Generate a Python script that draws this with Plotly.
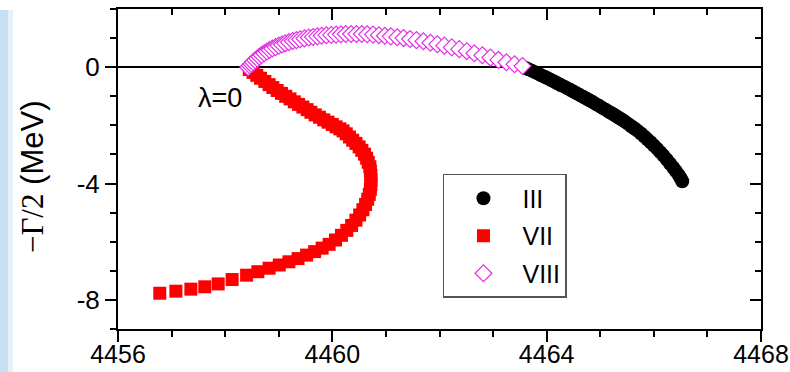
import plotly.graph_objects as go

# Pole trajectories in the complex energy plane: Re(E) vs -Gamma/2, both in MeV

# Pole III (black circles)
iii_mass = [4463.60, 4463.66, 4463.72, 4463.78, 4463.84, 4463.90, 4463.96, 4464.02,
            4464.08, 4464.14, 4464.20, 4464.26, 4464.32, 4464.38, 4464.44, 4464.50,
            4464.56, 4464.62, 4464.68, 4464.74, 4464.80, 4464.86, 4464.92, 4464.98,
            4465.04, 4465.10, 4465.16, 4465.22, 4465.28, 4465.34, 4465.40, 4465.46,
            4465.52, 4465.58, 4465.64, 4465.70, 4465.76, 4465.82, 4465.88, 4465.94,
            4466.00, 4466.06, 4466.12, 4466.18, 4466.24, 4466.30, 4466.36, 4466.41,
            4466.46, 4466.50, 4466.53]
iii_width = [-0.02, -0.07, -0.12, -0.17, -0.22, -0.28, -0.33, -0.38,
             -0.44, -0.49, -0.55, -0.61, -0.66, -0.72, -0.78, -0.84,
             -0.90, -0.96, -1.02, -1.08, -1.14, -1.20, -1.27, -1.33,
             -1.40, -1.46, -1.53, -1.59, -1.66, -1.73, -1.80, -1.87,
             -1.95, -2.03, -2.11, -2.19, -2.28, -2.38, -2.48, -2.58,
             -2.69, -2.80, -2.92, -3.04, -3.17, -3.31, -3.45, -3.57,
             -3.70, -3.81, -3.92]

# Pole VII (red squares)
vii_mass = [4458.45, 4458.52, 4458.59, 4458.66, 4458.74, 4458.82, 4458.89, 4458.97,
            4459.05, 4459.13, 4459.21, 4459.29, 4459.37, 4459.45, 4459.53, 4459.60,
            4459.68, 4459.76, 4459.84, 4459.92, 4460.00, 4460.07, 4460.14, 4460.20,
            4460.26, 4460.32, 4460.38, 4460.44, 4460.50, 4460.55, 4460.60, 4460.64,
            4460.67, 4460.70, 4460.71, 4460.72, 4460.72, 4460.72, 4460.71, 4460.69,
            4460.66, 4460.62, 4460.57, 4460.51, 4460.44, 4460.36, 4460.27, 4460.17,
            4460.06, 4459.94, 4459.81, 4459.67, 4459.52, 4459.36, 4459.19, 4459.01,
            4458.82, 4458.61, 4458.40, 4458.13, 4457.87, 4457.62, 4457.36, 4457.08,
            4456.78]
vii_width = [-0.08, -0.18, -0.28, -0.38, -0.49, -0.60, -0.70, -0.80,
             -0.90, -1.00, -1.09, -1.19, -1.28, -1.37, -1.46, -1.55,
             -1.64, -1.72, -1.81, -1.89, -1.97, -2.05, -2.12, -2.19,
             -2.29, -2.40, -2.51, -2.62, -2.74, -2.86, -2.99, -3.13,
             -3.27, -3.42, -3.57, -3.72, -3.88, -4.04, -4.20, -4.37,
             -4.54, -4.72, -4.90, -5.08, -5.26, -5.44, -5.61, -5.78,
             -5.94, -6.09, -6.22, -6.34, -6.46, -6.58, -6.69, -6.80,
             -6.91, -7.03, -7.15, -7.30, -7.45, -7.55, -7.63, -7.70,
             -7.77]

# Pole VIII (open magenta diamonds)
viii_mass = [4458.43, 4458.46, 4458.49, 4458.52, 4458.56, 4458.60, 4458.64, 4458.68,
             4458.73, 4458.78, 4458.83, 4458.88, 4458.94, 4459.00, 4459.06, 4459.12,
             4459.19, 4459.26, 4459.33, 4459.40, 4459.48, 4459.56, 4459.64, 4459.72,
             4459.80, 4459.89, 4459.98, 4460.07, 4460.16, 4460.25, 4460.35, 4460.45,
             4460.55, 4460.65, 4460.76, 4460.87, 4460.98, 4461.09, 4461.21, 4461.33,
             4461.45, 4461.57, 4461.70, 4461.83, 4461.96, 4462.09, 4462.23, 4462.37,
             4462.51, 4462.65, 4462.80, 4462.95, 4463.10, 4463.25, 4463.40, 4463.55]
viii_width = [0.00, 0.06, 0.11, 0.17, 0.24, 0.30, 0.36, 0.42,
              0.48, 0.54, 0.59, 0.64, 0.69, 0.74, 0.78, 0.82,
              0.86, 0.90, 0.93, 0.96, 0.99, 1.02, 1.04, 1.06,
              1.08, 1.10, 1.11, 1.12, 1.13, 1.14, 1.14, 1.14,
              1.14, 1.13, 1.12, 1.10, 1.08, 1.06, 1.03, 1.00,
              0.97, 0.93, 0.89, 0.84, 0.79, 0.74, 0.68, 0.62,
              0.55, 0.48, 0.41, 0.33, 0.25, 0.17, 0.10, 0.04]

series_names = ["III", "VII", "VIII"]
x_ticks = [4456, 4460, 4464, 4468]
y_ticks = [-8, -4, 0]
y_tick_text = ["-8", "-4", "0"]

SANS = "Liberation Sans, Arial, sans-serif"
SERIF = "Liberation Serif, Times New Roman, serif"

fig = go.Figure()

fig.add_trace(go.Scatter(
    x=iii_mass, y=iii_width, mode="markers", name=series_names[0],
    legendgroup="a",
    marker=dict(symbol="circle", size=14, color="black", line=dict(width=0)),
))
fig.add_trace(go.Scatter(
    x=vii_mass, y=vii_width, mode="markers", name=series_names[1],
    legendgroup="b",
    marker=dict(symbol="square", size=13, color="#ff0000", line=dict(width=0)),
))
fig.add_trace(go.Scatter(
    x=viii_mass, y=viii_width, mode="markers", name=series_names[2],
    legendgroup="c",
    marker=dict(symbol="diamond", size=13, color="white",
                line=dict(width=1.2, color="#e62ee6")),
))
# empty trace that carries the mirrored top/right axes
fig.add_trace(go.Scatter(x=[], y=[], xaxis="x2", yaxis="y2",
                         showlegend=False, hoverinfo="skip"))

axis_common = dict(
    showgrid=False, showline=True, linecolor="black", linewidth=2,
    tickcolor="black", tickwidth=2, ticklen=11, automargin=False,
)

fig.update_layout(
    width=790, height=372,
    margin=dict(l=118, r=29, t=9, b=43),
    paper_bgcolor="white", plot_bgcolor="white",
    font=dict(family=SANS, size=25, color="black"),
    xaxis=dict(
        range=[4456, 4468], tickmode="array", tickvals=x_ticks,
        ticks="outside", zeroline=False, ticklabelstandoff=-9,
        tickfont=dict(family=SANS, size=25),
        minor=dict(tickmode="linear", tick0=4456, dtick=1, ticks="outside",
                   ticklen=6, tickwidth=2, tickcolor="black", showgrid=False),
        **axis_common,
    ),
    yaxis=dict(
        range=[-9, 2], tickmode="array", tickvals=y_ticks, ticktext=y_tick_text,
        ticks="outside", zeroline=True, zerolinecolor="black", zerolinewidth=2,
        tickfont=dict(family=SANS, size=26),
        minor=dict(tickmode="linear", tick0=0, dtick=1, ticks="outside",
                   ticklen=6, tickwidth=2, tickcolor="black", showgrid=False),
        **axis_common,
    ),
    xaxis2=dict(
        overlaying="x", matches="x", side="top", anchor="y2",
        range=[4456, 4468], tickmode="array", tickvals=x_ticks,
        ticks="inside", showticklabels=False, zeroline=False,
        minor=dict(tickmode="linear", tick0=4456, dtick=1, ticks="inside",
                   ticklen=6, tickwidth=2, tickcolor="black", showgrid=False),
        **axis_common,
    ),
    yaxis2=dict(
        overlaying="y", matches="y", side="right", anchor="x2",
        range=[-9, 2], tickmode="array", tickvals=y_ticks,
        ticks="inside", showticklabels=False, zeroline=False,
        minor=dict(tickmode="linear", tick0=0, dtick=1, ticks="inside",
                   ticklen=6, tickwidth=2, tickcolor="black", showgrid=False),
        **axis_common,
    ),
    legend=dict(
        x=0.5054, y=0.4844, xanchor="left", yanchor="top",
        bgcolor="white", bordercolor="#555555", borderwidth=1.5,
        font=dict(family=SANS, size=25), itemwidth=68,
        tracegroupgap=2,
    ),
    showlegend=True,
)

# y-axis title
fig.add_annotation(
    xref="paper", yref="paper", x=-0.1337, y=0.475,
    text=f'<span style="font-family:{SERIF}">\u2212\u0393/2</span> (MeV)',
    textangle=-90, showarrow=False, xanchor="center", yanchor="middle",
    font=dict(family=SANS, size=31, color="black"),
)
# starting point label
fig.add_annotation(
    x=4457.9, y=-1.05, text="\u03bb=0", showarrow=False,
    xanchor="center", yanchor="middle",
    font=dict(family=SANS, size=27, color="black"),
)

# pale blue band along the left edge of the canvas
fig.add_shape(type="rect", xref="paper", yref="paper",
              x0=-0.1835, x1=-0.1710, y0=-0.134, y1=0.997,
              fillcolor="#c4e0f2", line=dict(width=0), layer="below")
fig.add_shape(type="rect", xref="paper", yref="paper",
              x0=-0.1710, x1=-0.1633, y0=-0.134, y1=0.997,
              fillcolor="#e4f1fa", line=dict(width=0), layer="below")

fig.write_html("out.html")
